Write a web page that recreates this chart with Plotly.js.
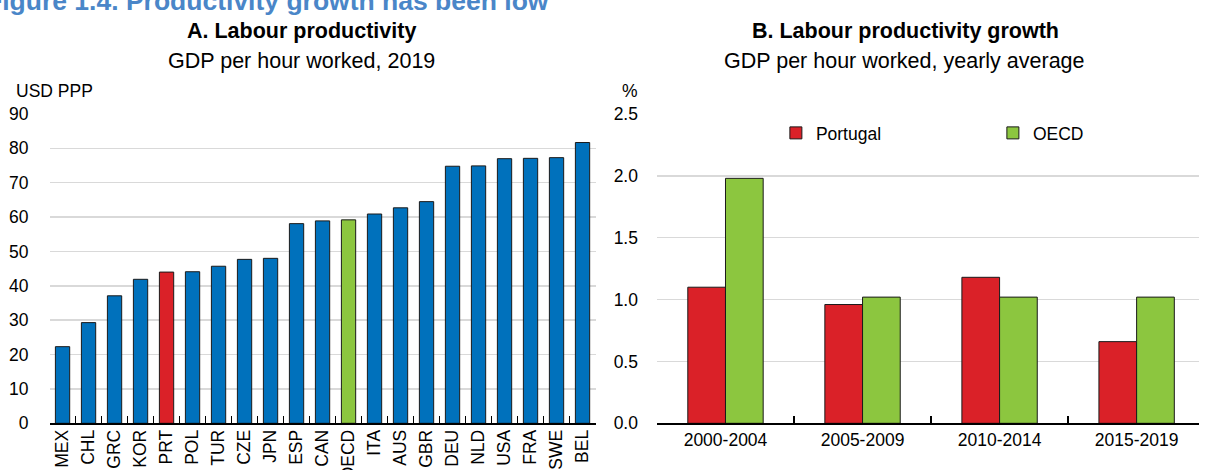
<!DOCTYPE html>
<html>
<head>
<meta charset="utf-8">
<script src="https://cdn.plot.ly/plotly-3.0.1.min.js"></script>
<style>html,body{margin:0;padding:0;background:#fff;}#chart{width:1210px;height:470px;}</style>
</head>
<body>
<div id="chart"></div>
<script>
// Panel A: GDP per hour worked, 2019 (USD PPP)
const countries = ['MEX','CHL','GRC','KOR','PRT','POL','TUR','CZE','JPN','ESP','CAN','OECD','ITA','AUS','GBR','DEU','NLD','USA','FRA','SWE','BEL'];
const productivity = [22.3, 29.3, 37.1, 41.9, 44.0, 44.1, 45.7, 47.7, 48.0, 58.1, 58.9, 59.2, 60.9, 62.7, 64.5, 74.8, 74.9, 77.0, 77.1, 77.3, 81.7];
const highlightRed = 'PRT';
const highlightGreen = 'OECD';

// Panel B: GDP per hour worked growth, yearly average (%)
const periods = ['2000-2004','2005-2009','2010-2014','2015-2019'];
const portugalGrowth = [1.10, 0.96, 1.18, 0.66];
const oecdGrowth = [1.98, 1.02, 1.02, 1.02];

const yTicksA = [0,10,20,30,40,50,60,70,80,90];
const yTicksB = [0,0.5,1,1.5,2,2.5];

const BLUE = '#0071bc', RED = '#da2128', GREEN = '#8cc63f', EDGE = '#1a1a1a';
const FONT = 'Liberation Sans, Arial, sans-serif';
const W = 1210, H = 470;
const px = x => x / W;
const py = y => 1 - y / H;

const barColors = countries.map(c => c === highlightRed ? RED : (c === highlightGreen ? GREEN : BLUE));

const traces = [
  {type:'bar', x:countries, y:productivity, xaxis:'x', yaxis:'y', showlegend:false,
   marker:{color:barColors, line:{color:EDGE, width:1}}},
  {type:'bar', name:'Portugal', x:periods, y:portugalGrowth, xaxis:'x2', yaxis:'y2',
   marker:{color:RED, line:{color:EDGE, width:1}}},
  {type:'bar', name:'OECD', x:periods, y:oecdGrowth, xaxis:'x2', yaxis:'y2',
   marker:{color:GREEN, line:{color:EDGE, width:1}}}
];

const plotTop = 114, plotBottom = 423.3;
const yDomain = [py(plotBottom), py(plotTop)];
const rightStart = 663, catW = 138.3;
const TS = 17.5;
const TICKFONT = {family: FONT, size: TS, color:'#000'};

const layout = {
  width: W, height: H,
  margin: {l:0, r:0, t:0, b:0},
  paper_bgcolor: '#fff', plot_bgcolor: '#fff',
  font: {family: FONT, size: 19, color: '#000'},
  barmode: 'group',
  bargap: 0.45,
  showlegend: true,
  legend: {orientation:'h', x: px(783), y: py(133), xanchor:'left', yanchor:'middle',
           font:{size:TS}, bgcolor:'rgba(0,0,0,0)', entrywidth: 172, entrywidthmode:'pixels',
           itemwidth: 30},
  xaxis: {domain:[px(50), px(601)], anchor:'y', type:'category', range:[-0.5, 20.5],
          showline:true, linecolor:'#000', linewidth:1.5, ticks:'inside', ticklen:7,
          tickcolor:'#000', tickwidth:1.5, tickson:'boundaries', tickangle:-90,
          ticklabelstandoff:-2, showgrid:false, tickfont:TICKFONT},
  yaxis: {domain:yDomain, anchor:'x', range:[0, 90], tickvals:yTicksA,
          showgrid:true, gridcolor:'#d9d9d9', gridwidth:1.5, zeroline:false,
          showline:false, ticks:'', ticklabelstandoff:20, tickfont:TICKFONT},
  xaxis2: {domain:[px(rightStart), 1], anchor:'y2', type:'category',
           range:[-0.5, -0.5 + (W - rightStart) / catW],
           showline:true, linecolor:'#000', linewidth:1.5, ticks:'inside', ticklen:7,
           tickcolor:'#000', tickwidth:1.5, tickson:'boundaries',
           showgrid:false, tickfont:TICKFONT},
  yaxis2: {domain:yDomain, anchor:'x2', range:[0, 2.5], tickvals:yTicksB, tickformat:'.1f',
           showgrid:true, gridcolor:'#d9d9d9', gridwidth:1.5, zeroline:false,
           showline:false, ticks:'', ticklabelstandoff:18, tickfont:TICKFONT},
  annotations: [
    {text:'<b>Figure 1.4. Productivity growth has been low</b>', xref:'paper', yref:'paper',
     x: px(-16), y: py(18), xanchor:'left', yanchor:'bottom', showarrow:false,
     font:{size:26.5, color:'#4a86c8'}},
    {text:'<b>A. Labour productivity</b>', xref:'paper', yref:'paper', x:px(304), y:py(31),
     xanchor:'center', yanchor:'middle', showarrow:false, font:{size:21.5}},
    {text:'GDP per hour worked, 2019', xref:'paper', yref:'paper', x:px(304), y:py(61),
     xanchor:'center', yanchor:'middle', showarrow:false, font:{size:21.5}},
    {text:'<b>B. Labour productivity growth</b>', xref:'paper', yref:'paper', x:px(914), y:py(31),
     xanchor:'center', yanchor:'middle', showarrow:false, font:{size:21.5}},
    {text:'GDP per hour worked, yearly average', xref:'paper', yref:'paper', x:px(913), y:py(61),
     xanchor:'center', yanchor:'middle', showarrow:false, font:{size:21.5}},
    {text:'USD PPP', xref:'paper', yref:'paper', x:px(14), y:py(91),
     xanchor:'left', yanchor:'middle', showarrow:false, font:{size:TS}},
    {text:'%', xref:'paper', yref:'paper', x:px(646), y:py(91),
     xanchor:'right', yanchor:'middle', showarrow:false, font:{size:TS}}
  ]
};

Plotly.newPlot('chart', traces, layout, {displayModeBar:false, staticPlot:true});
</script>
</body>
</html>
